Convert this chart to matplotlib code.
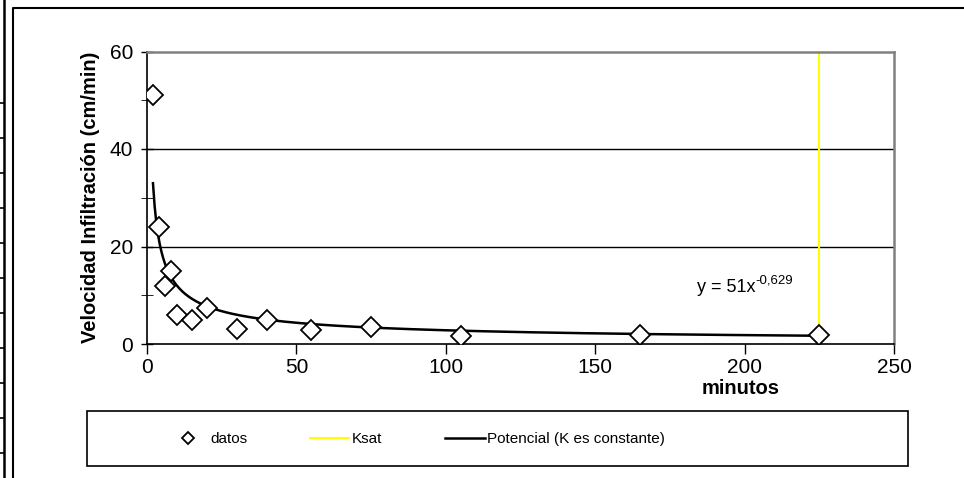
import numpy as np
import matplotlib
matplotlib.use("Agg")
import matplotlib.pyplot as plt
from matplotlib.lines import Line2D
from matplotlib.patches import Rectangle

plt.rcParams['font.family'] = ['Liberation Sans', 'DejaVu Sans']

# datos medidos (minutos, velocidad de infiltracion cm/min)
minutos = [2, 4, 6, 8, 10, 15, 20, 30, 40, 55, 75, 105, 165, 225]
velocidad = [51, 24, 12, 15, 6, 5, 7.3, 3, 5, 2.8, 3.5, 1.7, 1.8, 1.8]

# ajuste potencial mostrado en el grafico: y = a * x^b
coef_a = 51
coef_b = -0.629
ksat_x = 225

W, H = 964, 478
fig = plt.figure(figsize=(W / 100, H / 100), dpi=100)

# bordes de la hoja / grafico
fig.add_artist(Line2D([3.5 / W] * 2, [0, 1], color='black', lw=1.8))
for yy in np.arange(103, 478, 35):
    fig.add_artist(Line2D([0, 3.5 / W], [1 - yy / H] * 2, color='black', lw=1.2))
fig.add_artist(Line2D([12.5 / W, 12.5 / W, 1], [0, 1 - 8 / H, 1 - 8 / H], color='black', lw=1.5))

ax = fig.add_axes([147 / W, 1 - 344 / H, (894 - 147) / W, (344 - 51.5) / H])

xs = np.linspace(min(minutos), max(minutos), 400)
ax.plot(xs, coef_a * xs ** coef_b, color='black', lw=1.8, label='Potencial (K es constante)', zorder=3)
ax.plot(minutos, velocidad, linestyle='none', marker='D', ms=10, mfc='white', mec='black',
        mew=1.3, label='datos', zorder=4)
ax.plot([ksat_x, ksat_x], [0, 60], color='#FFFF00', lw=1.5, label='Ksat', zorder=2)

ax.set_xlim(0, 250)
ax.set_ylim(0, 60)
ax.set_xticks(range(0, 251, 50))
ax.set_yticks(range(0, 61, 20))
ax.set_yticks(range(10, 60, 20), minor=True)
ax.tick_params(axis='both', labelsize=15, color='black', width=1)
ax.tick_params(axis='y', which='both', direction='inout', length=8, pad=6)
ax.tick_params(axis='x', direction='out', length=7, pad=3)
for yv in [20, 40]:
    ax.axhline(yv, color='black', lw=1, zorder=1)
for s in ['top', 'right']:
    ax.spines[s].set_color('#808080')
    ax.spines[s].set_linewidth(1.8)
for s in ['left', 'bottom']:
    ax.spines[s].set_linewidth(1.2)

ax.set_ylabel('Velocidad Infiltración (cm/min)', fontsize=14.5, fontweight='bold', labelpad=7)
fig.text(741 / W, 1 - 389 / H, 'minutos', fontsize=14.5, fontweight='bold', ha='center', va='center')

# ecuacion del ajuste con exponente como superindice
eq = fig.text(697 / W, 1 - 288 / H, 'y = 51x', fontsize=13, ha='left', va='center')
ax.annotate('-0,629', xy=(1.0, 0.95), xycoords=eq, fontsize=9.5, ha='left', va='center')

# leyenda con marco propio
fig.add_artist(Rectangle((87 / W, 1 - 466 / H), (908 - 87) / W, (466 - 411) / H,
                         transform=fig.transFigure, fill=False, ec='black', lw=1.2))
h, l = ax.get_legend_handles_labels()
order = [1, 2, 0]
leg = fig.legend([h[i] for i in order], [l[i] for i in order], ncol=3,
                 loc='center left', bbox_to_anchor=(168 / W, 1 - 439 / H),
                 fontsize=11, frameon=False, markerscale=0.6,
                 handlelength=2.6, handletextpad=0.15, columnspacing=4.1,
                 borderpad=0, borderaxespad=0)

fig.savefig('out.png', dpi=100)
